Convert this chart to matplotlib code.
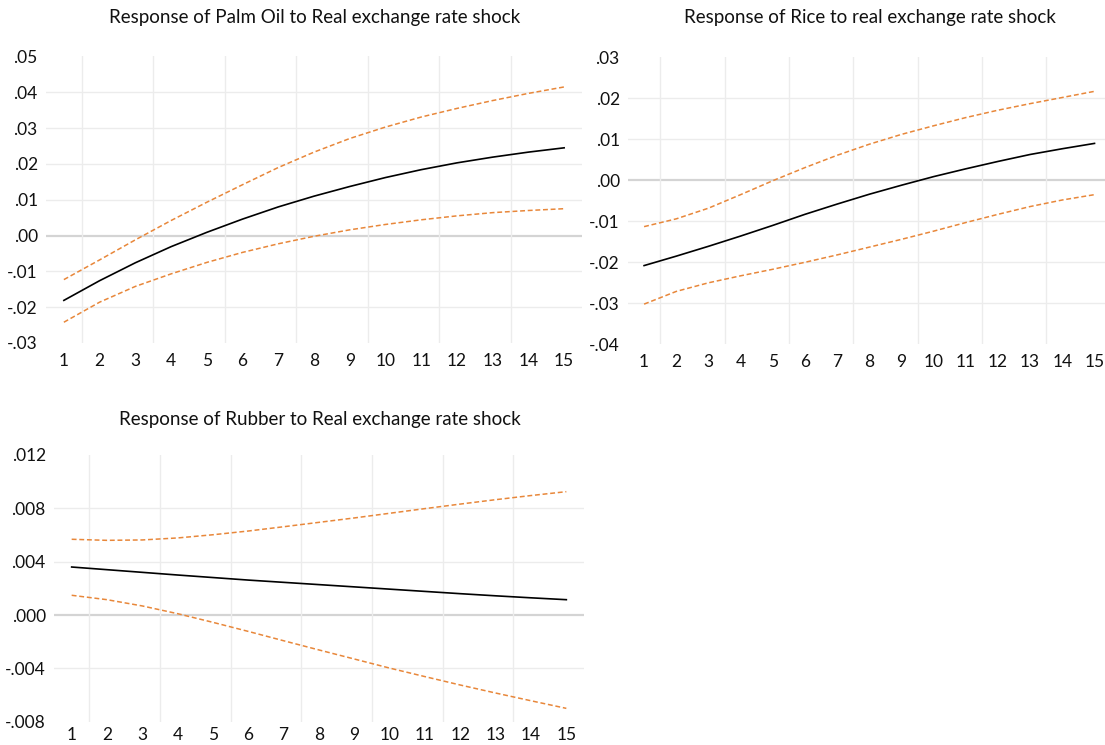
import numpy as np
import matplotlib
matplotlib.use("Agg")
import matplotlib.pyplot as plt

plt.rcParams['font.family'] = ['Lato', 'DejaVu Sans']

# horizon
steps = list(range(1, 16))

# Palm oil
palm_mid = [-0.0181, -0.0126, -0.0076, -0.0031, 0.0009, 0.0046, 0.0080, 0.0110,
            0.0137, 0.0162, 0.0184, 0.0203, 0.0219, 0.0233, 0.0245]
palm_up = [-0.0123, -0.0068, -0.0012, 0.0042, 0.0093, 0.0142, 0.0190, 0.0233,
           0.0271, 0.0303, 0.0331, 0.0355, 0.0377, 0.0397, 0.0415]
palm_lo = [-0.0242, -0.0186, -0.0142, -0.0107, -0.0075, -0.0047, -0.0023, -0.0002,
           0.0016, 0.0031, 0.0044, 0.0055, 0.0064, 0.0070, 0.0075]

# Rice
rice_mid = [-0.0208, -0.0185, -0.0161, -0.0136, -0.0110, -0.0083, -0.0058, -0.0034,
            -0.0012, 0.0009, 0.0028, 0.0046, 0.0063, 0.0077, 0.0090]
rice_up = [-0.0113, -0.0094, -0.0068, -0.0035, -0.0001, 0.0031, 0.0061, 0.0088,
           0.0112, 0.0133, 0.0153, 0.0171, 0.0187, 0.0202, 0.0217]
rice_lo = [-0.0302, -0.0271, -0.0250, -0.0233, -0.0217, -0.0200, -0.0182, -0.0163,
           -0.0144, -0.0124, -0.0103, -0.0083, -0.0064, -0.0048, -0.0035]

# Rubber
rub_mid = [0.00360, 0.00340, 0.00320, 0.00300, 0.00281, 0.00262, 0.00245, 0.00228,
           0.00211, 0.00194, 0.00177, 0.00160, 0.00144, 0.00129, 0.00115]
rub_up = [0.00568, 0.00560, 0.00563, 0.00578, 0.00602, 0.00630, 0.00662, 0.00695,
          0.00728, 0.00763, 0.00798, 0.00832, 0.00865, 0.00896, 0.00925]
rub_lo = [0.00148, 0.00115, 0.00068, 0.00010, -0.00055, -0.00123, -0.00193, -0.00262,
          -0.00330, -0.00398, -0.00462, -0.00525, -0.00585, -0.00643, -0.00700]

titles = ["Response of Palm Oil to Real exchange rate shock",
          "Response of Rice to real exchange rate shock",
          "Response of Rubber to Real exchange rate shock"]

W, H = 1105, 745
fig = plt.figure(figsize=(W / 100, H / 100), dpi=100)
fig.patch.set_facecolor('white')

ORANGE = '#e8873a'


def fmt(v, nd):
    s = f"{v:.{nd}f}"
    s = s.replace("0.", ".", 1) if s.startswith("0.") or s.startswith("-0.") else s
    return s


def panel(l, r, t, b, mid, up, lo, yticks, nd, title, title_xy, xpad=7):
    ax = fig.add_axes([l / W, 1 - b / H, (r - l) / W, (b - t) / H])
    ax.set_xlim(0.5, 15.5)
    ax.set_ylim(yticks[0], yticks[-1])
    for s in ax.spines.values():
        s.set_visible(False)
    # grid
    for yv in yticks[1:-1]:
        if abs(yv) < 1e-12:
            ax.axhline(yv, color='#d4d4d4', lw=1.6, zorder=1)
        else:
            ax.axhline(yv, color='#ececec', lw=1.0, zorder=1)
    for xv in np.arange(1.5, 15, 2):
        ax.axvline(xv, color='#ececec', lw=1.0, zorder=1)
    ax.plot(steps, up, color=ORANGE, lw=1.1, ls=(0, (3.2, 1.8)), zorder=3)
    ax.plot(steps, lo, color=ORANGE, lw=1.1, ls=(0, (3.2, 1.8)), zorder=3)
    ax.plot(steps, mid, color='black', lw=1.2, zorder=4)
    ax.set_xticks(steps)
    ax.set_xticklabels([str(s) for s in steps], fontsize=12.5, color='#111111')
    ax.set_yticks(yticks)
    ax.set_yticklabels([fmt(v, nd) for v in yticks], fontsize=12.5, color='#111111')
    ax.tick_params(length=0, pad=6)
    ax.tick_params(axis='x', pad=xpad)
    fig.text(title_xy[0] / W, 1 - title_xy[1] / H, title, ha='center', va='center',
             fontsize=13.5, color='#111111')
    return ax


panel(46, 582, 56.5, 343, palm_mid, palm_up, palm_lo,
      [-0.03, -0.02, -0.01, 0.0, 0.01, 0.02, 0.03, 0.04, 0.05], 2,
      titles[0], (315, 17))
panel(628, 1110.6, 57.3, 344.3, rice_mid, rice_up, rice_lo,
      [-0.04, -0.03, -0.02, -0.01, 0.0, 0.01, 0.02, 0.03], 2,
      titles[1], (870, 17))
panel(54, 584, 455, 721.7, rub_mid, rub_up, rub_lo,
      [-0.008, -0.004, 0.0, 0.004, 0.008, 0.012], 3,
      titles[2], (320, 419), xpad=4)

fig.savefig("out.png", dpi=100)
